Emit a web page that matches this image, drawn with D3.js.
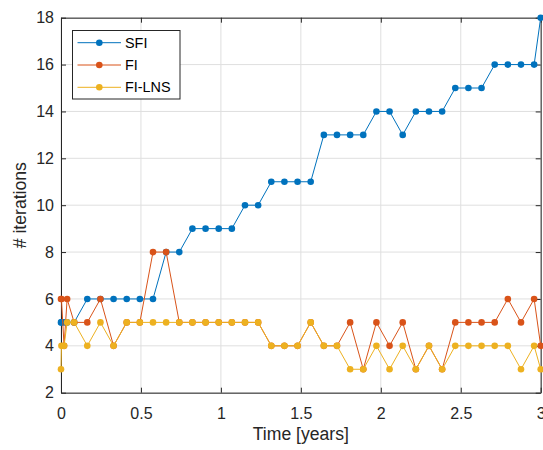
<!DOCTYPE html>
<html>
<head>
<meta charset="utf-8">
<script src="https://cdn.jsdelivr.net/npm/d3@7/dist/d3.min.js"></script>
<style>
  html, body { margin: 0; padding: 0; background: #fff; }
  svg { display: block; font-family: "Liberation Sans", Arial, Helvetica, sans-serif; }
</style>
</head>
<body>
<svg id="chart" width="543" height="450"></svg>
<script>
// Sample times in days since start
const days = [0, 1, 7, 14,
  30, 60, 90, 120, 150, 180, 210, 240, 270, 300, 330, 360,
  390, 420, 450, 480, 510, 540, 570, 600, 630, 660, 690, 720,
  750, 780, 810, 840, 870, 900, 930, 960, 990, 1020, 1050, 1080,
  1095];

// Iteration counts per method
const sfi = [5, 5, 5, 5,
  5, 6, 6, 6, 6, 6, 6, 8, 8, 9, 9, 9,
  9, 10, 10, 11, 11, 11, 11, 13, 13, 13, 13, 14,
  14, 13, 14, 14, 14, 15, 15, 15, 16, 16, 16, 16,
  18];
const fi = [6, 6, 4, 6,
  5, 5, 6, 4, 5, 5, 8, 8, 5, 5, 5, 5,
  5, 5, 5, 4, 4, 4, 5, 4, 4, 5, 3, 5,
  4, 5, 3, 4, 3, 5, 5, 5, 5, 6, 5, 6,
  4];
const fiLns = [3, 4, 4, 5,
  5, 4, 5, 4, 5, 5, 5, 5, 5, 5, 5, 5,
  5, 5, 5, 4, 4, 4, 5, 4, 4, 3, 3, 4,
  3, 4, 3, 4, 3, 4, 4, 4, 4, 4, 3, 4,
  3];

const seriesNames = ["SFI", "FI", "FI-LNS"];
const seriesColors = ["#0072BD", "#D95319", "#EDB120"];
const xTicks = [0, 0.5, 1, 1.5, 2, 2.5, 3];
const yTicks = [2, 4, 6, 8, 10, 12, 14, 16, 18];

(function () {
  const years = days.map(d => d / 365);
  const series = [sfi, fi, fiLns];

  const pLeft = 61, pRight = 540.7, pTop = 17.7, pBottom = 392.7;
  const svg = d3.select("#chart");
  const axisColor = "#262626";

  const x = d3.scaleLinear().domain([0, 3]).range([pLeft, pRight]);
  const y = d3.scaleLinear().domain([2, 18]).range([pBottom, pTop]);

  // Grid
  const grid = svg.append("g");
  grid.selectAll("line.gx").data(xTicks).join("line").attr("class", "gx")
    .attr("x1", d => x(d)).attr("x2", d => x(d))
    .attr("y1", pTop).attr("y2", pBottom)
    .attr("stroke", "#dfdfdf").attr("stroke-width", 1);
  grid.selectAll("line.gy").data(yTicks).join("line").attr("class", "gy")
    .attr("x1", pLeft).attr("x2", pRight)
    .attr("y1", d => y(d)).attr("y2", d => y(d))
    .attr("stroke", "#dfdfdf").attr("stroke-width", 1);

  // Axes (ticks point inward, box on all four sides)
  function styleAxis(g) {
    g.selectAll("path.domain").attr("stroke", axisColor).attr("stroke-width", 1);
    g.selectAll(".tick line").attr("stroke", axisColor).attr("stroke-width", 1);
    g.selectAll(".tick text").attr("fill", axisColor).attr("font-size", 16)
      .attr("font-family", "'Liberation Sans', Arial, Helvetica, sans-serif");
  }
  svg.append("g").attr("transform", `translate(0,${pBottom})`)
    .call(d3.axisBottom(x).tickValues(xTicks).tickFormat(d3.format("")).tickSizeInner(-5).tickSizeOuter(0).tickPadding(15))
    .call(styleAxis);
  svg.append("g").attr("transform", `translate(0,${pTop})`)
    .call(d3.axisTop(x).tickValues(xTicks).tickFormat("").tickSizeInner(-5).tickSizeOuter(0))
    .call(styleAxis);
  svg.append("g").attr("transform", `translate(${pLeft},0)`)
    .call(d3.axisLeft(y).tickValues(yTicks).tickSizeInner(-5).tickSizeOuter(0).tickPadding(7))
    .call(styleAxis);
  svg.append("g").attr("transform", `translate(${pRight},0)`)
    .call(d3.axisRight(y).tickValues(yTicks).tickFormat("").tickSizeInner(-5).tickSizeOuter(0))
    .call(styleAxis);

  // Axis labels
  svg.append("text")
    .attr("x", (pLeft + pRight) / 2).attr("y", 440)
    .attr("text-anchor", "middle").attr("font-size", 17.6).attr("fill", axisColor)
    .text("Time [years]");
  svg.append("text")
    .attr("transform", `translate(25.5,${(pTop + pBottom) / 2}) rotate(-90)`)
    .attr("text-anchor", "middle").attr("font-size", 17.6).attr("fill", axisColor)
    .text("# iterations");

  // Lines with dot markers
  const line = d3.line().x((d, i) => x(years[i])).y(d => y(d));
  series.forEach((vals, si) => {
    const g = svg.append("g");
    g.append("path").datum(vals)
      .attr("d", line)
      .attr("fill", "none")
      .attr("stroke", seriesColors[si])
      .attr("stroke-width", 1);
    g.selectAll("circle").data(vals).join("circle")
      .attr("cx", (d, i) => x(years[i]))
      .attr("cy", d => y(d))
      .attr("r", 3.3)
      .attr("fill", seriesColors[si]);
  });

  // Legend
  const lg = svg.append("g");
  lg.append("rect")
    .attr("x", 72.5).attr("y", 30.5).attr("width", 107.5).attr("height", 68.5)
    .attr("fill", "#fff").attr("stroke", axisColor).attr("stroke-width", 1);
  const rowY = [42.7, 65, 87.3];
  seriesNames.forEach((name, i) => {
    lg.append("line")
      .attr("x1", 77.5).attr("x2", 121).attr("y1", rowY[i]).attr("y2", rowY[i])
      .attr("stroke", seriesColors[i]).attr("stroke-width", 1);
    lg.append("circle")
      .attr("cx", 99.3).attr("cy", rowY[i]).attr("r", 3.3)
      .attr("fill", seriesColors[i]);
    lg.append("text")
      .attr("x", 125).attr("y", rowY[i]).attr("dy", "0.36em")
      .attr("font-size", 14.4).attr("fill", "#000")
      .text(name);
  });
})();
</script>
</body>
</html>
